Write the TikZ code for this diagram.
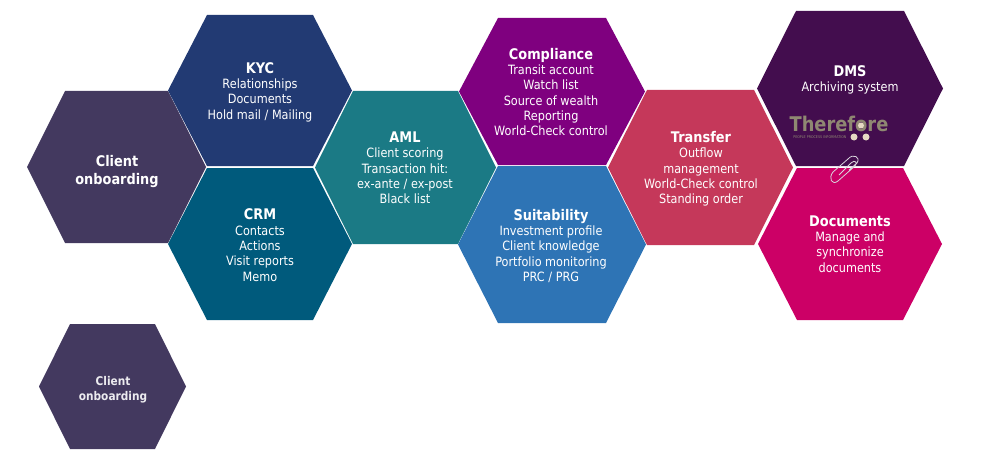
\documentclass[tikz,border=0pt]{standalone}
\usepackage{fontspec}
\setmainfont{DejaVu Sans}[FakeStretch=0.88]
\usepackage{tikz}
\definecolor{onboardcol}{HTML}{43395F}
\definecolor{kyccol}{HTML}{223A73}
\definecolor{crmcol}{HTML}{005A7C}
\definecolor{amlcol}{HTML}{1B7A85}
\definecolor{compcol}{HTML}{7F007F}
\definecolor{suitcol}{HTML}{2E74B5}
\definecolor{transcol}{HTML}{C5385A}
\definecolor{dmscol}{HTML}{430D4E}
\definecolor{doccol}{HTML}{CC0066}
\definecolor{logocol}{HTML}{8F8872}
\definecolor{logodot}{HTML}{E6D9C3}
\definecolor{clipcol}{HTML}{D9D4DC}
% left, top, right, bottom, top-edge inset, colour
\newcommand{\hexcell}[6]{%
  \fill[#6] (#1,{(#2+#4)/2}) -- (#1+#5,#2) -- (#3-#5,#2) -- (#3,{(#2+#4)/2})
    -- (#3-#5,#4) -- (#1+#5,#4) -- cycle;
}
\newcommand{\hexhead}[1]{{\fontsize{11}{11.5}\bfseries\selectfont #1}}
\begin{document}
\begin{tikzpicture}[
  x=0.75pt, y=-0.75pt,
  label/.style={text=white, align=center, inner sep=0pt, font=\fontsize{9.6}{11.5}\selectfont}
]
\useasboundingbox (0,0) rectangle (1000,460);
\hexcell{27}{91}{206}{243}{38}{onboardcol}
\hexcell{168}{15}{352}{166}{39}{kyccol}
\hexcell{168}{168}{352}{320}{39}{crmcol}
\hexcell{315}{91}{496}{244}{38}{amlcol}
\hexcell{459}{18}{645}{165}{39}{compcol}
\hexcell{458}{166}{646}{323}{40}{suitcol}
\hexcell{608}{90}{793}{245}{39}{transcol}
\hexcell{757}{11}{943}{166}{39}{dmscol}
\hexcell{758}{168}{942}{320}{39}{doccol}
\hexcell{39}{324}{186}{449}{31}{onboardcol}
\node[label, font=\fontsize{11}{13.5}\bfseries\selectfont] (onboard) at (117,172) {Client\\onboarding};
\node[label] (kyc) at (260,92) {\hexhead{KYC}\\Relationships\\Documents\\Hold mail / Mailing};
\node[label] (crm) at (260,245) {\hexhead{CRM}\\Contacts\\Actions\\Visit reports\\Memo};
\node[label] (aml) at (405,168) {\hexhead{AML}\\Client scoring\\Transaction hit:\\ex-ante / ex-post\\Black list};
\node[label] (comp) at (551,92) {\hexhead{Compliance}\\Transit account\\Watch list\\Source of wealth\\Reporting\\World-Check control};
\node[label] (suit) at (551,246) {\hexhead{Suitability}\\Investment profile\\Client knowledge\\Portfolio monitoring\\PRC / PRG};
\node[label] (trans) at (701,169) {\hexhead{Transfer}\\Outflow\\management\\World-Check control\\Standing order};
\node[label] (dms) at (850,80) {\hexhead{DMS}\\Archiving system};
\node[label] (docs) at (850,244) {\hexhead{Documents}\\Manage and\\synchronize\\documents};
\node[label, font=\fontsize{9}{11.2}\bfseries\selectfont, text=white!90!onboardcol] (small) at (113,390) {Client\\onboarding};
% logo
\node[inner sep=0pt, text=logocol, font=\fontsize{15.2}{16}\bfseries\selectfont] (logo) at (839,124) {Therefore};
\node[inner sep=0pt, text=logocol, font=\fontsize{2.8}{3}\selectfont, anchor=west] (logotag) at (793,137) {PEOPLE PROCESS INFORMATION};
\fill[logodot] (854,137) circle (3.5) (866,137) circle (3.5) (861,125.5) circle (3);
% paper clip
\draw[clipcol, line width=0.6pt] (839,175) -- (851,163) .. controls (855,159) and (858,163) .. (855,166)
  -- (838,181) .. controls (832,186) and (828,178) .. (833,172) -- (848,159)
  .. controls (853,153) and (861,157) .. (857,163) -- (849,170);
\end{tikzpicture}
\end{document}
